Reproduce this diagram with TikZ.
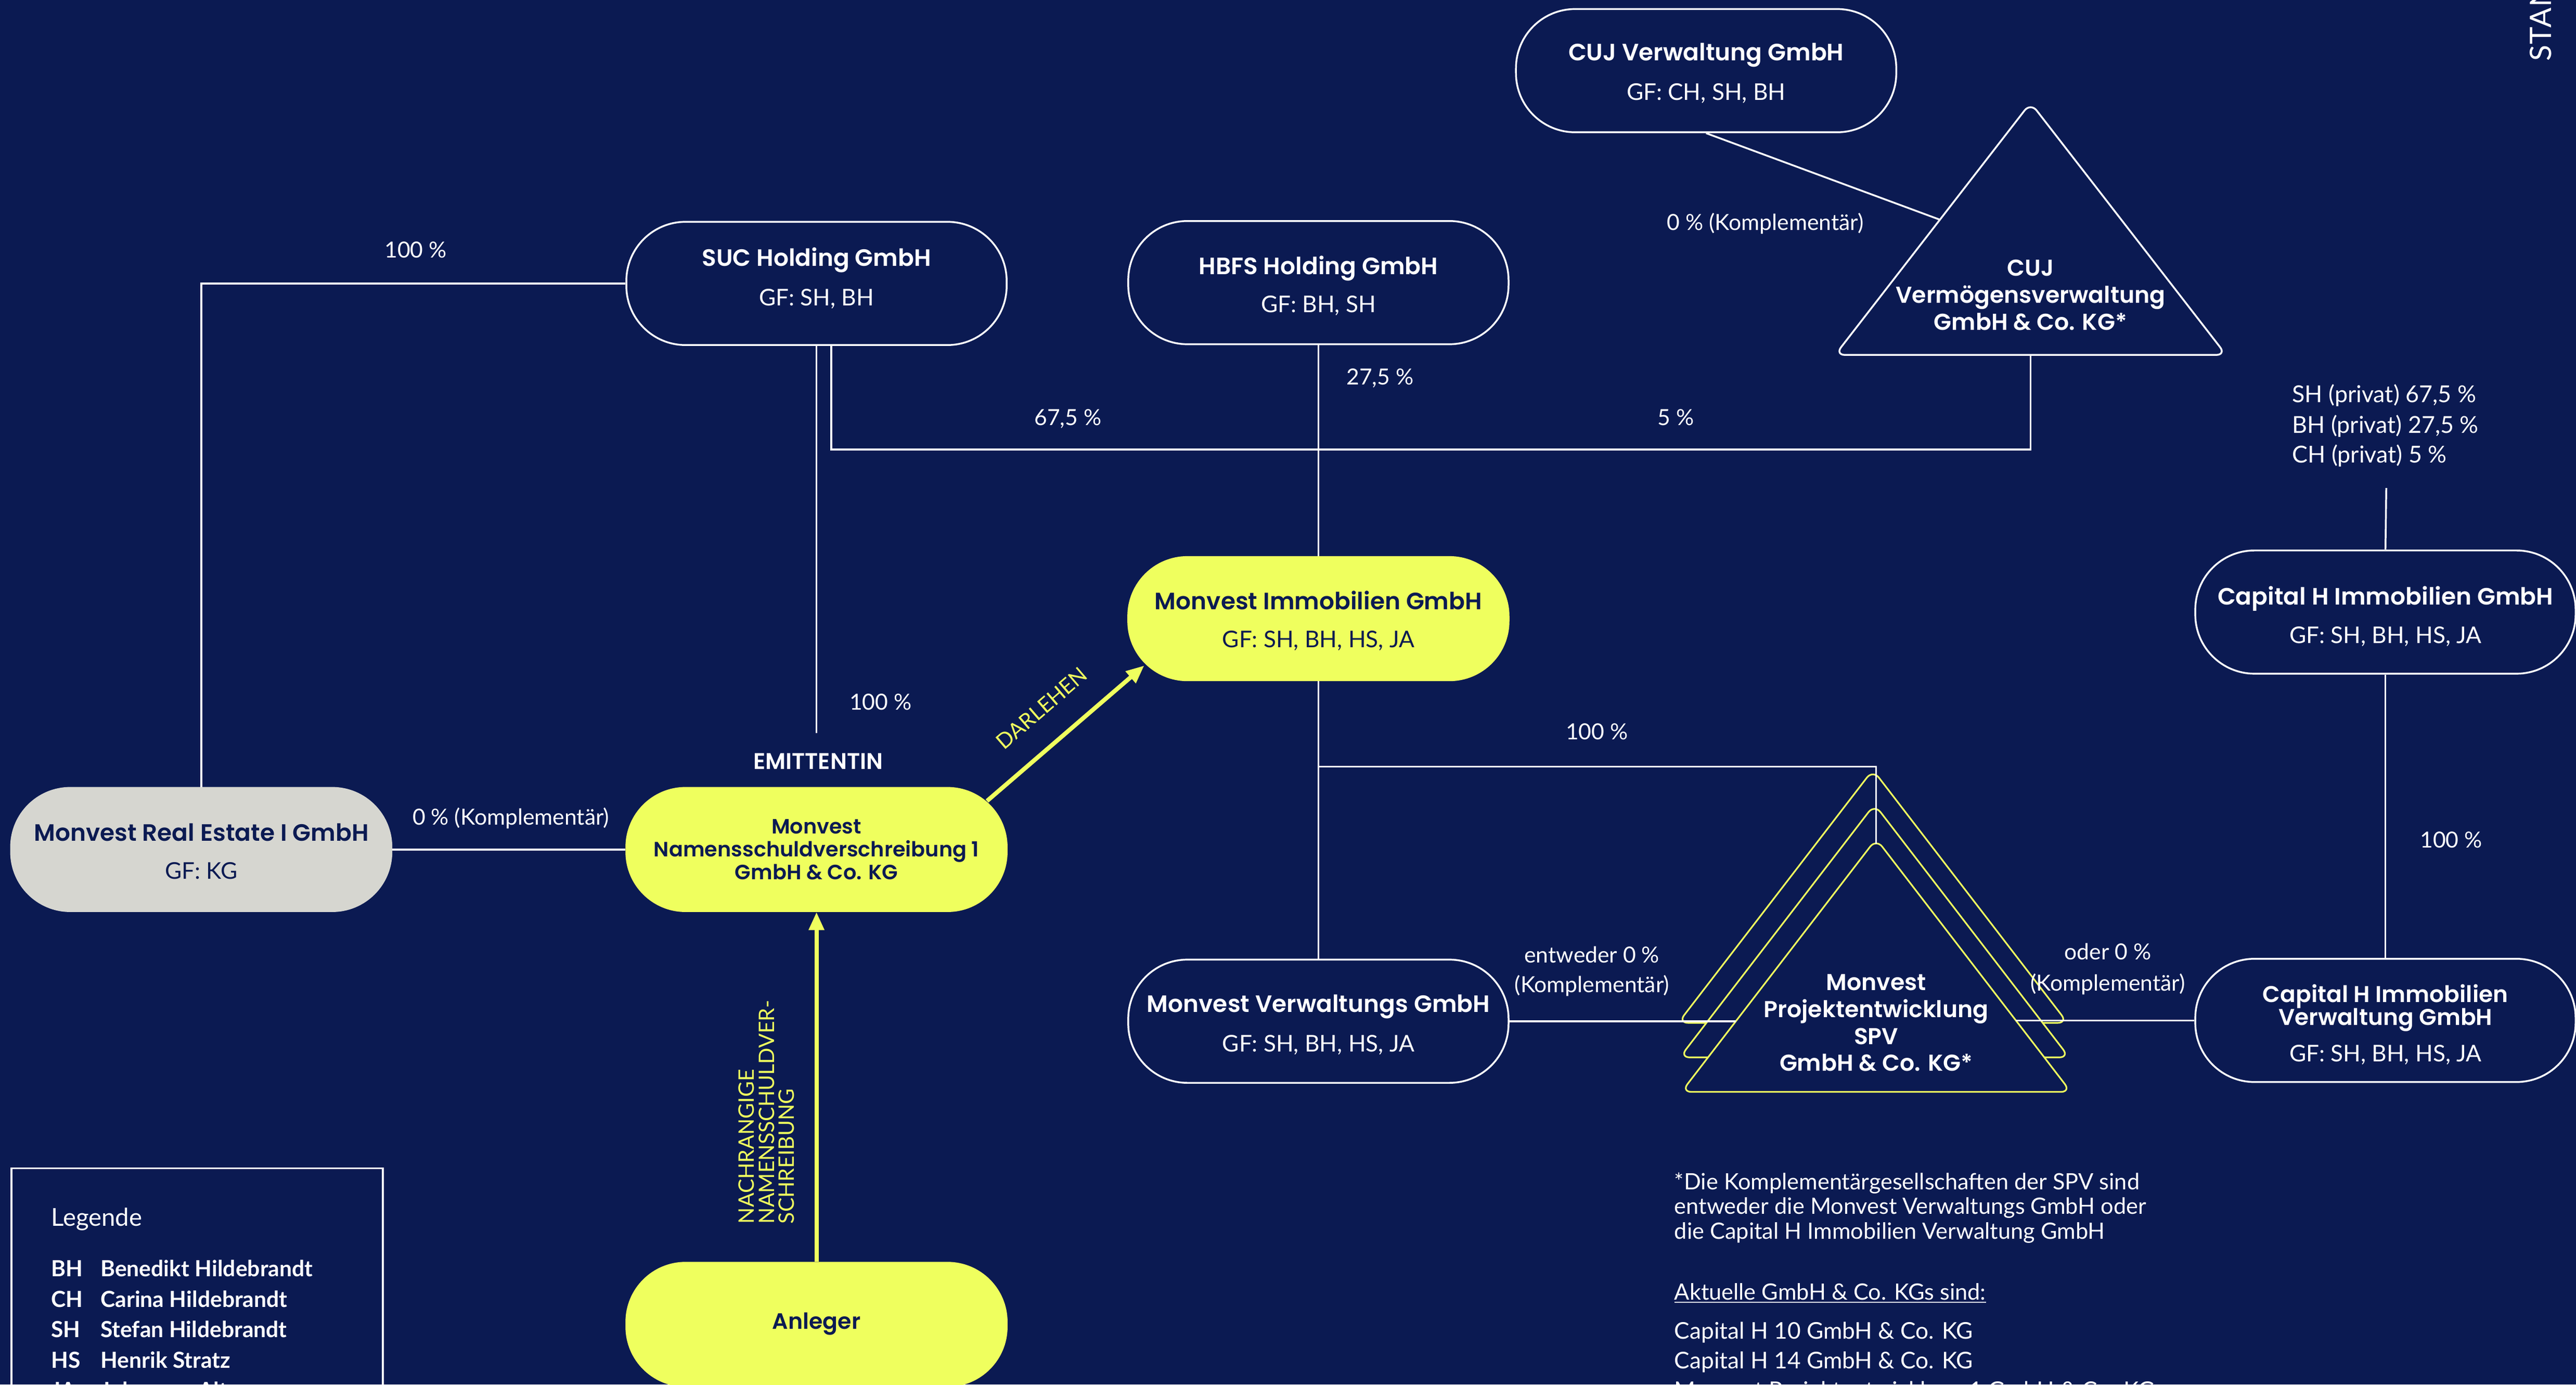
\documentclass[tikz,border=0pt]{standalone}
\usepackage{fontspec}
\setmainfont{Lato}
\newfontfamily\ttlfont{Poppins SemiBold}
\usetikzlibrary{arrows.meta,calc}
\definecolor{navy}{HTML}{0B1A52}
\definecolor{ylw}{HTML}{EFFF5E}
\definecolor{gry}{HTML}{D6D6D0}
\begin{document}
\begin{tikzpicture}[x=1pt,y=-1pt,
  ln/.style={draw=white,line width=1.1pt},
  box/.style={draw=white,line width=1.1pt,fill=navy,rounded corners=36pt,minimum width=231.5pt,minimum height=75pt,inner sep=0pt},
  ybox/.style={box,fill=ylw,draw=ylw},
  gbox/.style={box,fill=gry,draw=gry},
  ttl/.style={text=white,font={\ttlfont\fontsize{14.4}{16}\selectfont},inner sep=0pt,anchor=base},
  dttl/.style={ttl,text=navy},
  gf/.style={text=white,font={\fontsize{14}{16}\selectfont},inner sep=0pt,anchor=base},
  dgf/.style={gf,text=navy},
  lbl/.style={text=white,font={\fontsize{13.5}{15}\selectfont},inner sep=0pt,anchor=base},
  note/.style={text=white,font={\fontsize{13.7}{15}\selectfont},inner sep=0pt,anchor=base west},
  leg/.style={text=white,font={\bfseries\fontsize{13.5}{15}\selectfont},inner sep=0pt,anchor=base west},
  yarr/.style={draw=ylw,line width=2.6pt,-{Triangle[length=11pt,width=9pt]}},
  tri/.style={draw=white,line width=1.1pt,fill=navy,rounded corners=6pt},
  ytri/.style={tri,draw=ylw,line width=1pt},
  tritxt/.style={text=white,font={\ttlfont\fontsize{14}{16.4}\selectfont},inner sep=0pt,align=center},
  ytxt/.style={text=ylw,inner sep=0pt}
]
\fill[navy] (0,0) rectangle (1568,842.6);
\useasboundingbox (0,0) rectangle (1568,842.6);

% ---------- triangles ----------
\draw[tri] (1236,62.5) -- (1117,216) -- (1355,216) -- cycle;
\node[tritxt] (cujkg) at (1236,179.5) {CUJ\\Verm\"ogensverwaltung\\GmbH \& Co. KG*};
\coordinate (cujkgS) at (1236,216);
\coordinate (cujkgL) at (1180.5,133.6);

\draw[ytri] (1140,468.5) -- (1021.5,622.5) -- (1258.5,622.5) -- cycle;
\draw[ytri] (1141,489.5) -- (1022.5,643.5) -- (1259.5,643.5) -- cycle;
\draw[ytri] (1142,510.5) -- (1023.5,664.5) -- (1260.5,664.5) -- cycle;
\node[tritxt] (spv) at (1142,622.5) {Monvest\\Projektentwicklung\\SPV\\GmbH \& Co. KG*};
\coordinate (spvA) at (1142,513.5);
\coordinate (spvL) at (1056.6,621.5);
\coordinate (spvR) at (1227,621);

% ---------- boxes ----------
\node[box] (cujv) at (1038.5,43) {};
\node[ttl] (cujv-t) at (1038.5,37) {CUJ Verwaltung GmbH};
\node[gf] (cujv-g) at (1038.5,61) {GF: CH, SH, BH};

\node[box] (suc) at (497,172.5) {};
\node[ttl] (suc-t) at (497,162) {SUC Holding GmbH};
\node[gf] (suc-g) at (497,186) {GF: SH, BH};

\node[box] (hbfs) at (802.5,172) {};
\node[ttl] (hbfs-t) at (802.5,167) {HBFS Holding GmbH};
\node[gf] (hbfs-g) at (802.5,190) {GF: BH, SH};

\node[ybox] (mi) at (802.5,376.5) {};
\node[dttl] (mi-t) at (802.5,371) {Monvest Immobilien GmbH};
\node[dgf] (mi-g) at (802.5,394) {GF: SH, BH, HS, JA};

\node[box] (ci) at (1452,372.5) {};
\node[ttl] (ci-t) at (1452,368) {Capital H Immobilien GmbH};
\node[gf] (ci-g) at (1452,391.5) {GF: SH, BH, HS, JA};

\node[gbox] (re) at (122.5,517) {};
\node[dttl] (re-t) at (122.5,512) {Monvest Real Estate I GmbH};
\node[dgf] (re-g) at (122.5,535) {GF: KG};

\node[ybox,align=center,text=navy,font={\ttlfont\fontsize{12.6}{14}\selectfont}] (nsv) at (497,517)
  {Monvest\\Namensschuldverschreibung 1\\GmbH \& Co. KG};
\node[ttl,font={\ttlfont\fontsize{13.8}{15}\selectfont}] (emi) at (498,468) {EMITTENTIN};

\node[box] (mv) at (802.5,621.5) {};
\node[ttl] (mv-t) at (802.5,616) {Monvest Verwaltungs GmbH};
\node[gf] (mv-g) at (802.5,640) {GF: SH, BH, HS, JA};

\node[box] (cvw) at (1452,621) {};
\node[ttl,font={\ttlfont\fontsize{13.9}{15}\selectfont}] (cvw-t1) at (1452,610) {Capital H Immobilien};
\node[ttl,font={\ttlfont\fontsize{13.9}{15}\selectfont}] (cvw-t2) at (1452,624) {Verwaltung GmbH};
\node[gf] (cvw-g) at (1452,646) {GF: SH, BH, HS, JA};

\node[ybox] (anl) at (497,806) {};
\node[dttl,font={\ttlfont\fontsize{13.5}{15}\selectfont}] (anl-t) at (497,809) {Anleger};

% ---------- connectors ----------
\coordinate (sucend) at (497,446);
\coordinate (bus) at (803,273.5);
\coordinate (spvbus) at (802.5,466.5);
\coordinate (ciTop) at (1452.5,297);

\draw[ln] (suc.west) -| (re.north);
\draw[ln] (re.east) -- (nsv.west);
\draw[ln] (suc.south) -- (sucend);
\draw[ln] ([xshift=9pt]suc.south) |- (bus) -| (cujkgS);
\draw[ln] (hbfs.south) -- (mi.north);
\draw[ln] (cujv.south) -- (cujkgL);
\draw[ln] (mi.south) -- (mv.north);
\draw[ln] (spvbus) -| (spvA);
\draw[ln] (mv.east) -- (spvL);
\draw[ln] (spvR) -- (cvw.west);
\draw[ln] (ciTop) -- (ci.north);
\draw[ln] (ci.south) -- (cvw.north);

\draw[yarr] (anl.north) -- (nsv.south);
\draw[yarr] ($(nsv.north east)+(-12.5,8.5)$) -- ($(mi.south west)+(10.3,-9.5)$);

% ---------- labels ----------
\node[lbl] (l1) at (253,157) {100 \%};
\node[lbl] (l2) at (536,432) {100 \%};
\node[lbl] (l3) at (972,450) {100 \%};
\node[lbl] (l4) at (1492,516) {100 \%};
\node[lbl] (l5) at (650,259) {67,5 \%};
\node[lbl] (l6) at (840,234) {27,5 \%};
\node[lbl] (l7) at (1020,259) {5 \%};
\node[lbl] (l8) at (311,502) {0 \% (Komplement\"ar)};
\node[lbl] (l9) at (1074.5,140) {0 \% (Komplement\"ar)};
\node[lbl] (l10) at (969,586) {entweder 0 \%};
\node[lbl] (l11) at (969,604) {(Komplement\"ar)};
\node[lbl] (l12) at (1283,584) {oder 0 \%};
\node[lbl] (l13) at (1283,603) {(Komplement\"ar)};

\node[lbl,anchor=base west,font={\fontsize{14.2}{16}\selectfont}] (sh1) at (1395,245) {SH (privat) 67,5 \%};
\node[lbl,anchor=base west,font={\fontsize{14.2}{16}\selectfont}] (sh2) at (1395,263.5) {BH (privat) 27,5 \%};
\node[lbl,anchor=base west,font={\fontsize{14.2}{16}\selectfont}] (sh3) at (1395,281.5) {CH (privat) 5 \%};

\node[ytxt,rotate=40.8,font={\fontsize{13}{15}\selectfont}] (darl) at (634,431) {DARLEHEN};
\node[ytxt,rotate=90,anchor=west,align=left,font={\fontsize{13}{12.2}\selectfont}] (nsvl) at (466.5,745)
  {NACHRANGIGE\\NAMENSSCHULDVER-\\SCHREIBUNG};

% ---------- footnote ----------
\node[note] (fn1) at (1019,724) {*Die Komplement\"argesellschaften der SPV sind};
\node[note] (fn2) at (1019,739) {entweder die Monvest Verwaltungs GmbH oder};
\node[note] (fn3) at (1019,754) {die Capital H Immobilien Verwaltung GmbH};
\node[note] (fn4) at (1019,791) {\underline{Aktuelle GmbH \& Co. KGs sind:}};
\node[note,font={\fontsize{14}{16}\selectfont}] (fn5) at (1019,815) {Capital H 10 GmbH \& Co. KG};
\node[note,font={\fontsize{14}{16}\selectfont}] (fn6) at (1019,833) {Capital H 14 GmbH \& Co. KG};
\node[note,font={\fontsize{14}{16}\selectfont}] (fn7) at (1019,851) {Monvest Projektentwicklung 1 GmbH \& Co. KG};

% ---------- legend ----------
\draw[ln] (7,711) rectangle (233,880);
\node[note,font={\fontsize{15}{17}\selectfont}] (legt) at (31,746) {Legende};
\node[leg] (a1) at (31,777) {BH}; \node[leg] (n1) at (61,777) {Benedikt Hildebrandt};
\node[leg] (a2) at (31,795.5) {CH}; \node[leg] (n2) at (61,795.5) {Carina Hildebrandt};
\node[leg] (a3) at (31,814) {SH}; \node[leg] (n3) at (61,814) {Stefan Hildebrandt};
\node[leg] (a4) at (31,832.5) {HS}; \node[leg] (n4) at (61,832.5) {Henrik Stratz};
\node[leg] (a5) at (31,851) {JA}; \node[leg] (n5) at (61,851) {Johannes Altmayr};

% ---------- stand ----------
\node[text=white,rotate=90,anchor=base west,inner sep=0pt,font={\fontsize{18}{20}\selectfont\addfontfeature{LetterSpace=3}}] (stand) at (1553,37.5) {STAND};
\end{tikzpicture}
\end{document}
